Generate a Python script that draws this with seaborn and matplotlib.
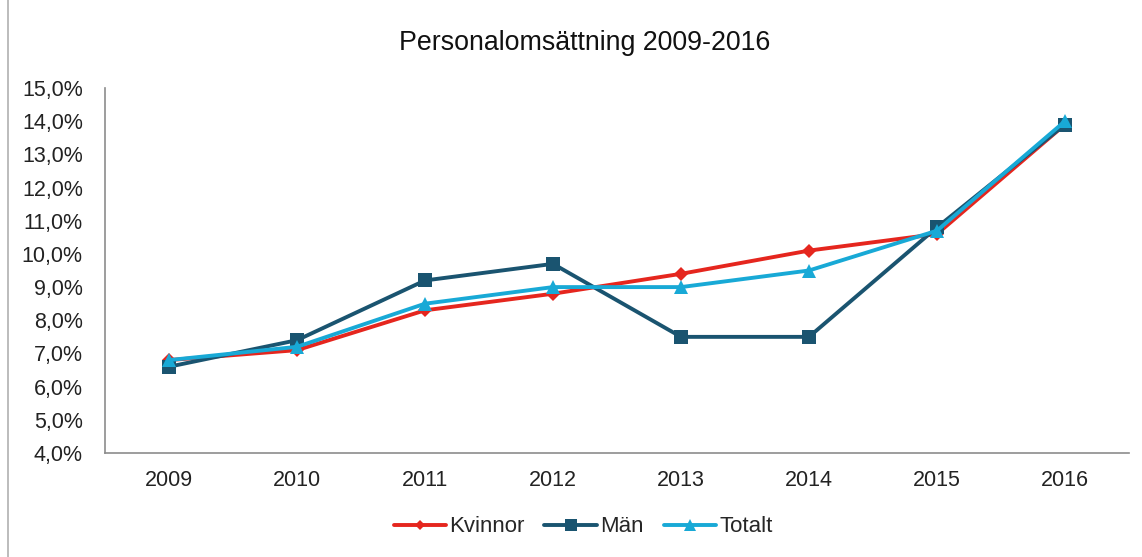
import matplotlib
matplotlib.use("Agg")
import matplotlib.pyplot as plt
import seaborn as sns
import pandas as pd
from matplotlib.lines import Line2D

years = ["2009", "2010", "2011", "2012", "2013", "2014", "2015", "2016"]
kvinnor = [6.8, 7.1, 8.3, 8.8, 9.4, 10.1, 10.6, 13.9]
man = [6.6, 7.4, 9.2, 9.7, 7.5, 7.5, 10.8, 13.9]
totalt = [6.8, 7.2, 8.5, 9.0, 9.0, 9.5, 10.7, 14.0]
series_names = ["Kvinnor", "Män", "Totalt"]
yticks = [4, 5, 6, 7, 8, 9, 10, 11, 12, 13, 14, 15]

sns.set_theme(style="white")
plt.rcParams["font.family"] = ["Liberation Sans", "DejaVu Sans"]

rows = []
for name, vals in zip(series_names, [kvinnor, man, totalt]):
    for i, v in enumerate(vals):
        rows.append({"idx": i, "year": years[i], "value": v, "serie": name})
df = pd.DataFrame(rows)

colors = {"Kvinnor": "#E5261E", "Män": "#1A5470", "Totalt": "#18A9D6"}
markers = {"Kvinnor": "D", "Män": "s", "Totalt": "^"}
msizes = {"Kvinnor": 7, "Män": 10, "Totalt": 10}

fig = plt.figure(figsize=(11.42, 5.57), dpi=100)
ax = fig.add_axes([105 / 1142, (557 - 453) / 557, 1024 / 1142, 365 / 557])

for name in series_names:
    sub = df[df["serie"] == name]
    sns.lineplot(data=sub, x="idx", y="value", ax=ax, color=colors[name],
                 marker=markers[name], markersize=msizes[name], linewidth=2.8,
                 markeredgewidth=0, legend=False)

ax.set_xlim(-0.5, 7.5)
ax.set_ylim(4, 15)
ax.set_xticks(range(len(years)))
ax.set_xticklabels(years)
ax.set_yticks(yticks)
ax.set_yticklabels([f"{t},0%" for t in yticks])
ax.tick_params(axis="both", labelsize=15.5, colors="#222222", length=0)
ax.tick_params(axis="x", pad=12)
ax.tick_params(axis="y", pad=16)
ax.set_xlabel("")
ax.set_ylabel("")
for side in ["top", "right"]:
    ax.spines[side].set_visible(False)
for side in ["left", "bottom"]:
    ax.spines[side].set_color("#8C8C8C")
    ax.spines[side].set_linewidth(1.2)

fig.text(585 / 1142, 1 - 43 / 557, "Personalomsättning 2009-2016", fontsize=19.3,
         color="#111111", ha="center", va="center")

handles = [Line2D([0], [0], color=colors[n], marker=markers[n], markersize=msizes[n] * 0.8,
                  linewidth=2.8, markeredgewidth=0) for n in series_names]
fig.legend(handles, series_names, loc="center", bbox_to_anchor=(583 / 1142, 1 - 527 / 557),
           ncol=3, frameon=False, fontsize=16, handlelength=2.35, handletextpad=0.15,
           columnspacing=0.9)

fig.add_artist(Line2D([8 / 1142, 8 / 1142], [0, 1], color="#B0B0B0", linewidth=1.2))

fig.savefig("out.png", dpi=100)
